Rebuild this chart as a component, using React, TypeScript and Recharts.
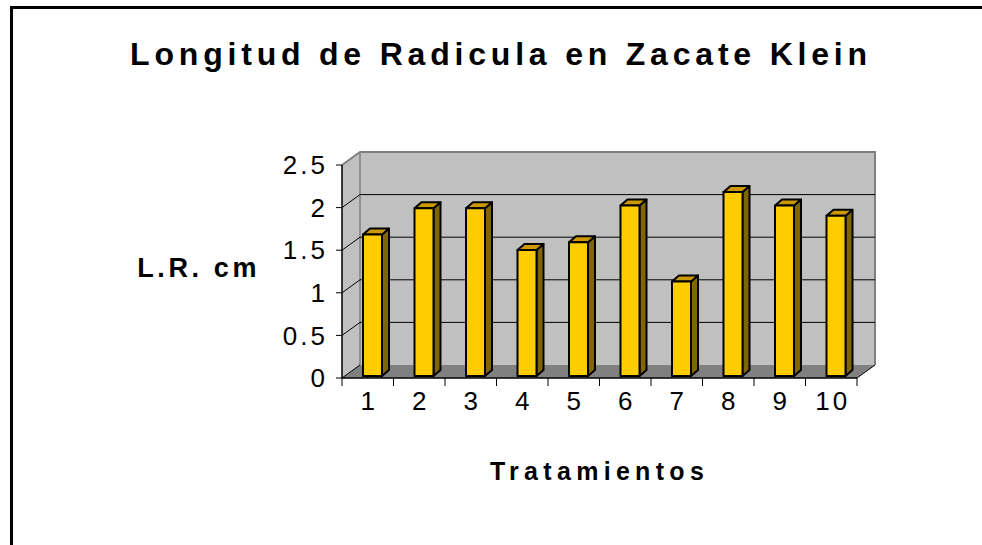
import React from 'react';
import { BarChart, Bar, XAxis, YAxis, CartesianGrid, ReferenceArea, Label } from 'recharts';

const categories = ['1', '2', '3', '4', '5', '6', '7', '8', '9', '10'];
const lengths = [1.66, 1.97, 1.97, 1.48, 1.57, 2.0, 1.11, 2.16, 2.0, 1.88];
const yTicks = [0, 0.5, 1, 1.5, 2, 2.5];
const gridValues = [0.5, 1, 1.5, 2];
const chartTitle = 'Longitud de Radicula en Zacate Klein';
const yTitle = 'L.R. cm';
const xTitle = 'Tratamientos';

const data = categories.map((c, i) => ({ name: c, value: lengths[i] }));

const FONT = '"Liberation Sans", Arial, sans-serif';
const WALL_DX = 18;
const WALL_DY = -13;
const BAR_DX = 5;
const BAR_DY = -2;
const SIDE_DX = 7;
const SIDE_DY = -6;
const X_TICK_SIZE = 8;
const X_TICK_MARGIN = 6;
const TICK_FONT = 26;
const TICK_SPACING = 3;

function Walls(props: any) {
  const { x, y, width, height } = props;
  if (x == null || width == null) return null;
  const l = x, r = x + width, t = y, b = y + height;
  const bl = l + WALL_DX, br = r + WALL_DX, bt = t + WALL_DY, bb = b + WALL_DY;
  return (
    <g>
      <polygon points={`${l},${b} ${l},${t} ${bl},${bt} ${bl},${bb}`} fill="#C0C0C0" />
      <rect x={bl} y={bt} width={width} height={height} fill="#C0C0C0" />
      <polygon points={`${l},${b} ${bl},${bb} ${br},${bb} ${r},${b}`} fill="#808080" />
      <polyline points={`${l},${t} ${bl},${bt} ${br},${bt} ${br},${bb}`} fill="none" stroke="#808080" strokeWidth={2} />
      <line x1={bl} y1={bt} x2={bl} y2={bb} stroke="#808080" strokeWidth={1.5} />
      <line x1={r} y1={b} x2={br} y2={bb} stroke="#000" strokeWidth={1} />
      <line x1={l} y1={b} x2={bl} y2={bb} stroke="#000" strokeWidth={1} />
    </g>
  );
}

function GridLine(props: any) {
  const { x1, y1, x2, y2, index } = props;
  return (
    <g key={`gl-${index}-${y1}`}>
      <line x1={x1} y1={y1} x2={x1 + WALL_DX} y2={y1 + WALL_DY} stroke="#000" strokeWidth={1} />
      <line x1={x1 + WALL_DX} y1={y1 + WALL_DY} x2={x2 + WALL_DX} y2={y2 + WALL_DY} stroke="#000" strokeWidth={1} />
    </g>
  );
}

function Bar3D(props: any) {
  const { x, y, width, height } = props;
  if (x == null || height == null || width == null) return null;
  const fx = x + BAR_DX;
  const fy = y + BAR_DY;
  const rx = fx + width;
  const by = fy + height;
  return (
    <g stroke="#000" strokeWidth={2} strokeLinejoin="round">
      <polygon
        points={`${rx},${fy} ${rx + SIDE_DX},${fy + SIDE_DY} ${rx + SIDE_DX},${by + SIDE_DY} ${rx},${by}`}
        fill="#806600"
      />
      <polygon
        points={`${fx},${fy} ${fx + SIDE_DX},${fy + SIDE_DY} ${rx + SIDE_DX},${fy + SIDE_DY} ${rx},${fy}`}
        fill="#CC9900"
      />
      <rect x={fx} y={fy} width={width} height={height} fill="#FFCC00" />
    </g>
  );
}

function CatTick(props: any) {
  const { x, y, payload, index, visibleTicksCount } = props;
  const off = payload && typeof payload.offset === 'number' ? payload.offset : 0;
  const axisY = y - X_TICK_SIZE - X_TICK_MARGIN;
  const isLast = index === visibleTicksCount - 1;
  return (
    <g>
      <line x1={x - off} y1={axisY} x2={x - off} y2={axisY + X_TICK_SIZE} stroke="#000" strokeWidth={1} />
      {isLast && (
        <line x1={x + off} y1={axisY} x2={x + off} y2={axisY + X_TICK_SIZE} stroke="#000" strokeWidth={1} />
      )}
      <text
        x={x + TICK_SPACING / 2}
        y={y}
        dy="0.71em"
        textAnchor="middle"
        fill="#000"
        fontSize={TICK_FONT}
        fontFamily={FONT}
        style={{ letterSpacing: `${TICK_SPACING}px` }}
      >
        {payload.value}
      </text>
    </g>
  );
}

export default function App() {
  return (
    <div style={{ position: 'relative', width: 982, height: 545, overflow: 'hidden', background: '#fff' }}>
      <style>{'body{margin:0;overflow:hidden;}'}</style>
      <div
        style={{
          position: 'absolute',
          left: 10,
          top: 6,
          width: 969,
          height: 536,
          borderLeft: '3px solid #000',
          borderTop: '3px solid #000',
        }}
      />
      <div
        style={{
          position: 'absolute',
          left: 10,
          top: 38,
          width: 982,
          textAlign: 'center',
          fontFamily: FONT,
          fontWeight: 'bold',
          fontSize: 32,
          lineHeight: '32px',
          letterSpacing: '4.8px',
          color: '#000',
          whiteSpace: 'nowrap',
        }}
      >
        {chartTitle}
      </div>
      <div style={{ position: 'absolute', left: 0, top: 0 }}>
        <BarChart
          width={982}
          height={545}
          data={data}
          margin={{ top: 165, right: 125, bottom: 137, left: 282 }}
          barSize={19}
        >
          <ReferenceArea y1={0} y2={2.5} shape={Walls} ifOverflow="visible" zIndex={-200} />
          <CartesianGrid vertical={false} horizontal={GridLine} horizontalValues={gridValues} />
          <XAxis
            dataKey="name"
            height={30}
            interval={0}
            tickLine={false}
            tickSize={X_TICK_SIZE}
            tickMargin={X_TICK_MARGIN}
            axisLine={{ stroke: '#000', strokeWidth: 1.5 }}
            tick={<CatTick />}
          >
            <Label
              value={xTitle}
              position="bottom"
              offset={54}
              fill="#000"
              fontSize={25}
              fontWeight="bold"
              fontFamily={FONT}
              style={{ letterSpacing: '5.3px' }}
            />
          </XAxis>
          <YAxis
            domain={[0, 2.5]}
            ticks={yTicks}
            width={60}
            interval={0}
            tickSize={6}
            tickMargin={8}
            axisLine={{ stroke: '#000', strokeWidth: 1.5 }}
            tickLine={{ stroke: '#000' }}
            tick={{ fill: '#000', fontSize: TICK_FONT, fontFamily: FONT, style: { letterSpacing: `${TICK_SPACING}px` } }}
          >
            <Label
              value={yTitle}
              position="left"
              offset={22}
              dy={-4}
              fill="#000"
              fontSize={27}
              fontWeight="bold"
              fontFamily={FONT}
              style={{ letterSpacing: '3.6px' }}
            />
          </YAxis>
          <Bar dataKey="value" shape={Bar3D} isAnimationActive={false} />
        </BarChart>
      </div>
    </div>
  );
}
